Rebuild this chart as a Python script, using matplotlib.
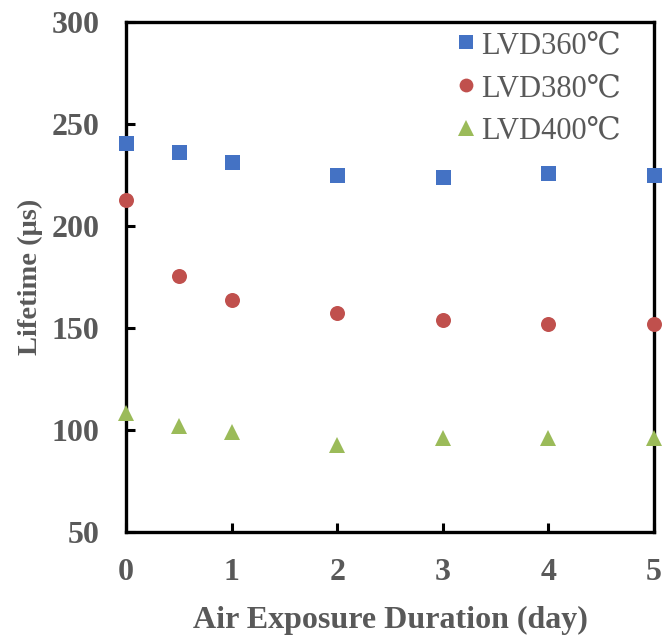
import matplotlib
matplotlib.use("Agg")
import matplotlib.pyplot as plt

# values
days = [0, 0.5, 1, 2, 3, 4, 5]
lvd360 = [240.9, 236.1, 231.5, 224.9, 223.9, 225.9, 224.9]
lvd380 = [212.9, 175.6, 163.6, 157.2, 153.8, 151.8, 151.8]
lvd400 = [108.3, 102.1, 99.1, 92.6, 96.3, 96.3, 96.3]
series_labels = ["LVD360℃", "LVD380℃", "LVD400℃"]
x_ticks = [0, 1, 2, 3, 4, 5]
y_ticks = [50, 100, 150, 200, 250, 300]

text_gray = "#595959"
fonts = ["Liberation Serif", "DejaVu Serif", "Noto Sans CJK SC"]
plt.rcParams["font.family"] = fonts

fig = plt.figure(figsize=(6.65, 6.44), dpi=100)
ax = fig.add_axes([126 / 665, 112 / 644, 528 / 665, 510 / 644])

styles = [("s", "#4472C4", 10.8), ("o", "#C0504D", 10.8), ("^", "#9BBB59", 12.2)]
for vals, lab, (mk, col, ms) in zip([lvd360, lvd380, lvd400], series_labels, styles):
    ax.plot(days, vals, linestyle="none", marker=mk, color=col, markersize=ms,
            markeredgewidth=0, label=lab, clip_on=False, zorder=5)

ax.set_xlim(0, 5)
ax.set_ylim(50, 300)
ax.set_xticks(x_ticks)
ax.set_yticks(y_ticks)

for sp in ax.spines.values():
    sp.set_linewidth(2.4)
    sp.set_color("black")

ax.tick_params(direction="in", length=6.5, width=2.2, labelsize=23, colors="black",
               labelcolor=text_gray)
ax.tick_params(axis="x", pad=19)
ax.tick_params(axis="y", pad=19)
for lbl in ax.get_xticklabels() + ax.get_yticklabels():
    lbl.set_fontweight("bold")

ax.set_xlabel("Air Exposure Duration (day)", fontsize=23, fontweight="bold",
              color=text_gray, labelpad=13)
ax.set_ylabel("Lifetime (μs)", fontsize=20.5, fontweight="bold", color=text_gray,
              labelpad=6)

leg = ax.legend(loc="upper right", bbox_to_anchor=(0.955, 1.0), frameon=False,
                fontsize=22, handlelength=0.5, handletextpad=0.25, labelspacing=0.45,
                borderaxespad=0.0, borderpad=0.3, markerscale=0.92)
for t in leg.get_texts():
    t.set_color(text_gray)

fig.savefig("out.png", dpi=100)
